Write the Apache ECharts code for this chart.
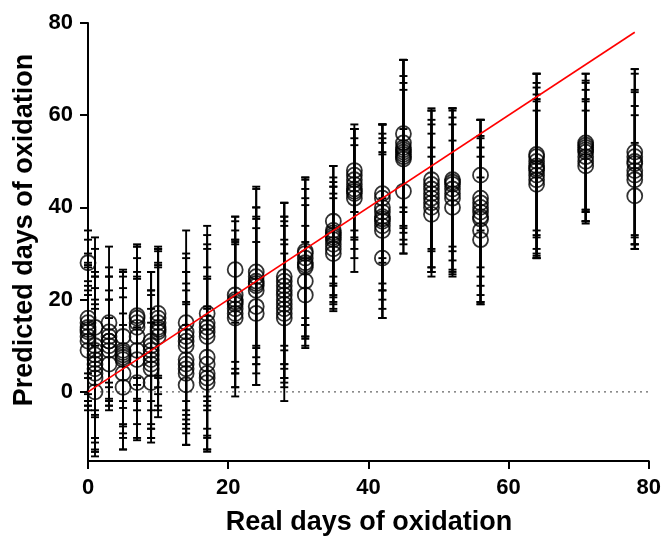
<!DOCTYPE html>
<html>
<head>
<meta charset="utf-8">
<script src="https://cdn.jsdelivr.net/npm/echarts@6/dist/echarts.min.js"></script>
<style>
html,body{margin:0;padding:0;background:#fff;}
#chart{width:664px;height:536px;}
</style>
</head>
<body>
<div id="chart"></div>
<script>
// Real days of oxidation (x categories)
const realDays = [0, 1, 3, 5, 7, 9, 10, 14, 17, 21, 24, 28, 31, 35, 38, 42, 45, 49, 52, 56, 64, 71, 78];

// Predicted days (each circle) per real day
const predictedMeans = [
  [28, 16, 15, 14, 13.5, 13, 12, 11, 9],
  [14, 10, 9, 8, 7, 6, 5, 4, 3, 0],
  [15, 13, 12, 11, 11, 10, 9, 6],
  [12, 9, 8.5, 8, 7.5, 7, 4, 1],
  [16.5, 16, 15, 14, 12, 9, 7, 2],
  [11, 10, 9, 8, 7, 6, 5, 2],
  [17, 16, 15, 14, 13.5, 13, 12],
  [15, 13, 12, 11, 10, 7, 6, 5, 4, 1.5],
  [17, 15, 14, 13, 12, 7.5, 6, 4, 3, 2],
  [26.5, 21, 20, 19.5, 19, 18, 17, 16],
  [26, 25, 24, 23.5, 23, 22, 18.5, 17],
  [25, 24, 23, 22, 21, 20, 19, 18, 17, 16],
  [30.5, 30, 29, 28, 27.5, 27, 24, 21],
  [37, 35, 34.5, 34, 33.5, 33, 32, 31, 30],
  [48, 47, 46, 45, 44, 43.5, 43, 42],
  [43, 42, 40, 39, 38, 37.5, 37, 36, 35, 29],
  [56, 54, 53, 52.5, 52, 51.5, 51, 50.5, 43.5],
  [46, 45, 44, 43, 42, 41, 40, 38.5],
  [46, 45.5, 45, 44, 43, 42, 40],
  [47, 42, 41, 40, 39, 38, 37.5, 35, 33],
  [51.5, 51, 50, 49, 48.5, 48, 47, 46, 45],
  [54, 53.5, 53, 52.5, 52, 51, 50, 49],
  [52, 51, 50, 49.5, 48, 47, 46, 42.5]
];

// Error (SD) of each prediction
const predictedSD = [
  [7, 12, 18, 16, 14, 10, 15, 13, 13],
  [19.5, 15, 22, 12, 18, 20, 17.5, 14, 16, 10],
  [16.5, 12, 15, 14, 9, 12, 11, 10],
  [14, 16, 12, 18, 15, 19.5, 13, 13.5],
  [15, 13, 16.5, 18, 14, 16, 17.5, 12],
  [15, 12, 17, 18, 14, 16, 13, 13],
  [13.5, 15, 12, 17, 14, 18.5, 16],
  [20, 17, 14, 18, 16, 15, 17.5, 14, 15.5, 13],
  [19, 16, 18, 21, 15, 17, 19, 14, 15.5, 14.5],
  [11.5, 17, 15, 13, 18, 14, 16, 17],
  [18.5, 15, 20, 14, 17, 16, 17, 15.5],
  [16, 14, 18, 19, 15, 17, 13, 20, 16, 14],
  [16, 14, 17.5, 18, 13, 15, 12, 11.5],
  [12, 14, 11, 15, 13, 10, 12.5, 13.5, 12],
  [9, 8, 11, 12, 13, 10, 14, 16],
  [15, 13, 18, 17, 20, 14, 21, 16, 19, 13],
  [16, 18, 14, 19.5, 20, 17, 21, 15, 13.5],
  [15.5, 14, 17, 18, 16, 15, 13, 12.5],
  [15.5, 14, 16.5, 17.5, 18, 16, 14.5],
  [12, 17, 14, 19, 20, 15, 18, 16, 13.5],
  [17.5, 16, 19, 20, 15, 18, 17.5, 17, 16],
  [15, 14, 16, 13, 15, 12, 13.5, 12],
  [18, 19, 19, 16, 17, 15, 14, 11.5]
];

// Identity line and zero reference
const identityLine = [[0, 0], [78, 78]];
const zeroLine = [[0, 0], [80, 0]];

// Axis ticks
const xTicks = [0, 20, 40, 60, 80];
const yTicks = [0, 20, 40, 60, 80];

const xTitle = 'Real days of oxidation';
const yTitle = 'Predicted days of oxidation';

const points = [];
realDays.forEach(function (d, i) {
  predictedMeans[i].forEach(function (v, j) {
    points.push([d, v, predictedSD[i][j]]);
  });
});

const FONT = 'Liberation Sans, Arial, sans-serif';
const chart = echarts.init(document.getElementById('chart'), null, {renderer: 'canvas'});

chart.setOption({
  animation: false,
  backgroundColor: '#fff',
  grid: {left: 88, right: 14, top: 23, bottom: 75, containLabel: false},
  graphic: [
    {
      type: 'text', x: 25, y: 230, rotation: Math.PI / 2,
      style: {text: yTitle, fontFamily: FONT, fontWeight: 'bold', fontSize: 27, fill: '#000',
        textAlign: 'center', textVerticalAlign: 'middle'}
    },
    {
      type: 'text', x: 369, y: 523,
      style: {text: xTitle, fontFamily: FONT, fontWeight: 'bold', fontSize: 27, fill: '#000',
        textAlign: 'center', textVerticalAlign: 'middle'}
    }
  ],
  xAxis: {
    type: 'value', min: 0, max: 80, interval: 20,
    axisLine: {show: true, onZero: false, lineStyle: {color: '#000', width: 2}},
    axisTick: {show: true, length: 8, lineStyle: {color: '#000', width: 2}, customValues: xTicks},
    axisLabel: {fontFamily: FONT, fontWeight: 'bold', fontSize: 22, color: '#000', margin: 16, customValues: xTicks},
    splitLine: {show: false}
  },
  yAxis: {
    type: 'value', min: -15, max: 80,
    axisLine: {show: true, onZero: false, lineStyle: {color: '#000', width: 2}},
    axisTick: {show: true, length: 8, lineStyle: {color: '#000', width: 2}, customValues: yTicks},
    axisLabel: {fontFamily: FONT, fontWeight: 'bold', fontSize: 22, color: '#000', margin: 15, customValues: yTicks},
    splitLine: {show: false}
  },
  series: [
    {
      type: 'line', data: zeroLine, symbol: 'none', silent: true,
      lineStyle: {color: '#666', width: 1.2, type: [2, 4]}, z: 1
    },
    {
      type: 'custom', data: points, z: 2,
      renderItem: function (params, api) {
        const x = api.value(0), v = api.value(1), s = api.value(2);
        const top = api.coord([x, v + s]);
        const bot = api.coord([x, v - s]);
        const hw = 4;
        const st = {stroke: '#000', lineWidth: 1.9};
        return {
          type: 'group',
          children: [
            {type: 'line', shape: {x1: top[0], y1: top[1], x2: bot[0], y2: bot[1]}, style: st},
            {type: 'line', shape: {x1: top[0] - hw, y1: top[1], x2: top[0] + hw, y2: top[1]}, style: st},
            {type: 'line', shape: {x1: bot[0] - hw, y1: bot[1], x2: bot[0] + hw, y2: bot[1]}, style: st}
          ]
        };
      },
      encode: {x: 0, y: 1}
    },
    {
      type: 'scatter', data: points.map(function (p) { return [p[0], p[1]]; }), z: 3,
      symbol: 'circle', symbolSize: 15,
      itemStyle: {color: 'rgba(0,0,0,0)', borderColor: '#000', borderWidth: 1.8}
    },
    {
      type: 'line', data: identityLine, symbol: 'none', z: 4,
      lineStyle: {color: '#ff0000', width: 1.6}
    }
  ]
});
</script>
</body>
</html>
